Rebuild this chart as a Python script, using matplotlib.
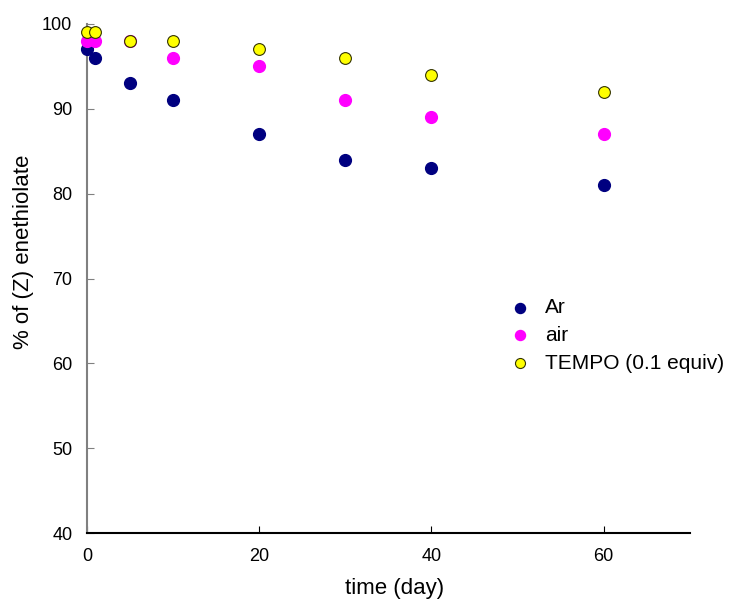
import matplotlib
matplotlib.use("Agg")
import matplotlib.pyplot as plt

plt.rcParams['font.family'] = ['Liberation Sans', 'DejaVu Sans']

# データ
ar_x = [0, 1, 5, 10, 20, 30, 40, 60]
ar_y = [97, 96, 93, 91, 87, 84, 83, 81]
air_x = [0, 1, 5, 10, 20, 30, 40, 60]
air_y = [98, 98, 98, 96, 95, 91, 89, 87]
tempo_x = [0, 1, 5, 10, 20, 30, 40, 60]
tempo_y = [99, 99, 98, 98, 97, 96, 94, 92]

fig = plt.figure(figsize=(7.3, 5.99), dpi=100)
ax = fig.add_axes([0.119, 0.110, 0.826, 0.850])

ax.scatter(ar_x, ar_y, s=72, color='#000080', label='Ar', zorder=3, clip_on=False)
ax.scatter(air_x, air_y, s=72, color='#ff00ff', label='air', zorder=3, clip_on=False)
ax.scatter(tempo_x, tempo_y, s=72, color='#ffff00', edgecolors='#333300', linewidths=0.8,
           label='TEMPO (0.1 equiv)', zorder=4, clip_on=False)

ax.set_xlim(0, 70)
ax.set_ylim(40, 100)
ax.set_xticks([0, 20, 40, 60])
ax.set_yticks([40, 50, 60, 70, 80, 90, 100])
ax.tick_params(direction='in', labelsize=13, length=5, pad=10.5, colors='black')
ax.tick_params(axis='y', color='#808080')

for s in ['top', 'right']:
    ax.spines[s].set_visible(False)
ax.spines['left'].set_color('#808080')
ax.spines['left'].set_linewidth(1.5)
ax.spines['bottom'].set_color('black')
ax.spines['bottom'].set_linewidth(1.5)

ax.set_xlabel('time (day)', fontsize=16)
ax.set_ylabel('% of (Z) enethiolate', fontsize=16)
ax.xaxis.set_label_coords(0.51, -0.088)
ax.yaxis.set_label_coords(-0.088, 0.552)

ax.legend(loc='upper left', bbox_to_anchor=(0.667, 0.482), frameon=False, fontsize=15,
          handletextpad=0.2, labelspacing=0.42, borderpad=0, scatterpoints=1,
          markerscale=0.85)

fig.savefig('out.png', dpi=100)
